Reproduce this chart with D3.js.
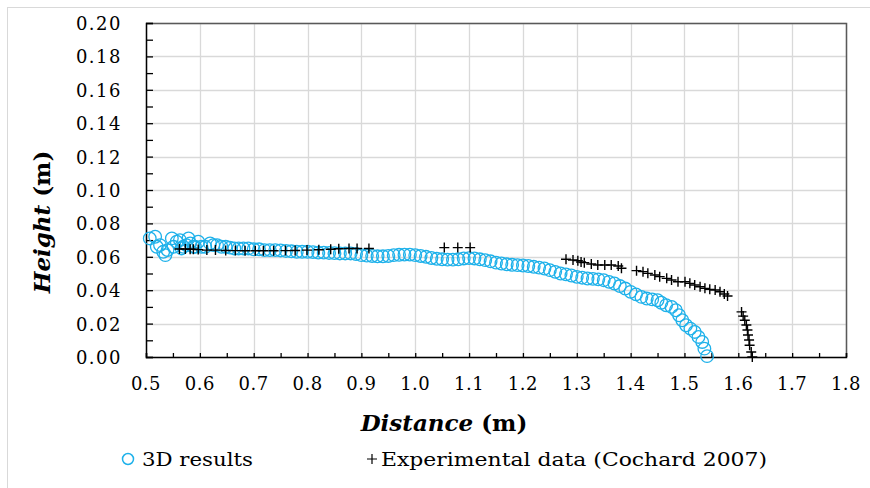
<!DOCTYPE html>
<html><head><meta charset="utf-8">
<script src="https://cdn.jsdelivr.net/npm/d3@7"></script>
<style>
html,body{margin:0;padding:0;background:#fff;}
svg{display:block;font-family:"DejaVu Serif",serif;}
</style></head>
<body><svg id="c" width="870" height="488"></svg>
<script>
// 3D results (circles)
const simX = [0.507,0.517,0.520,0.526,0.532,0.536,0.540,0.548,0.551,0.557,0.563,0.566,0.569,0.575,0.579,0.582,0.588,0.591,0.597,0.603,0.610,0.619,0.625,0.632,0.640,0.648,0.656,0.664,0.672,0.681,0.690,0.700,0.710,0.720,0.730,0.740,0.750,0.760,0.770,0.780,0.790,0.800,0.810,0.820,0.830,0.840,0.850,0.860,0.870,0.880,0.890,0.900,0.910,0.920,0.930,0.940,0.950,0.960,0.970,0.980,0.990,1.000,1.010,1.020,1.030,1.040,1.050,1.060,1.070,1.080,1.090,1.100,1.110,1.120,1.130,1.140,1.150,1.160,1.170,1.180,1.190,1.200,1.210,1.220,1.230,1.240,1.250,1.260,1.270,1.280,1.290,1.300,1.310,1.320,1.330,1.340,1.350,1.360,1.370,1.380,1.390,1.400,1.410,1.420,1.430,1.440,1.450,1.457,1.466,1.476,1.484,1.490,1.496,1.503,1.511,1.519,1.526,1.533,1.537,1.542];
const simY = [0.071,0.072,0.066,0.067,0.063,0.061,0.064,0.071,0.066,0.069,0.070,0.065,0.066,0.067,0.071,0.068,0.066,0.066,0.069,0.066,0.066,0.068,0.067,0.067,0.066,0.066,0.0655,0.065,0.065,0.065,0.065,0.0645,0.0645,0.064,0.064,0.064,0.0638,0.0635,0.0633,0.063,0.063,0.063,0.0628,0.0625,0.0625,0.0623,0.0622,0.062,0.062,0.062,0.0617,0.061,0.0607,0.0605,0.0603,0.0603,0.0605,0.061,0.0612,0.0613,0.0613,0.061,0.0605,0.060,0.0593,0.0588,0.0585,0.0583,0.0583,0.0585,0.059,0.0592,0.059,0.0585,0.058,0.0573,0.0565,0.056,0.0555,0.0552,0.055,0.0548,0.0545,0.054,0.0535,0.053,0.052,0.051,0.050,0.0495,0.0488,0.048,0.0475,0.047,0.0468,0.0465,0.046,0.045,0.044,0.0425,0.041,0.039,0.0375,0.036,0.035,0.0345,0.034,0.0325,0.031,0.030,0.028,0.025,0.022,0.019,0.017,0.015,0.012,0.009,0.005,0.0005];
// Experimental data (Cochard 2007) (plus markers)
const expX = [0.562,0.573,0.582,0.588,0.597,0.613,0.629,0.648,0.666,0.684,0.703,0.718,0.737,0.759,0.777,0.799,0.821,0.843,0.858,0.877,0.892,0.914,
  1.054,1.079,1.102,
  1.280,1.293,1.302,1.308,1.314,1.327,1.339,1.352,1.364,1.377,1.383,1.411,1.423,1.432,1.445,1.454,1.467,1.476,1.488,1.501,1.510,1.519,1.529,1.538,1.547,1.557,1.566,1.574,1.580,
  1.606,1.609,1.612,1.615,1.617,1.618,1.620,1.621,1.624,1.626];
const expY = [0.0647,0.0647,0.0645,0.0645,0.0643,0.064,0.064,0.0638,0.0637,0.0636,0.0636,0.0636,0.0636,0.0637,0.0638,0.064,0.0642,0.0645,0.0648,0.065,0.065,0.065,
  0.0655,0.0655,0.0655,
  0.0585,0.0581,0.0577,0.0569,0.0565,0.0557,0.0551,0.0551,0.0551,0.0545,0.0531,0.0517,0.0511,0.0501,0.0491,0.0481,0.0471,0.0461,0.0451,0.0451,0.0441,0.0431,0.0421,0.0411,0.0405,0.0401,0.0391,0.0377,0.0365,
  0.0270,0.0245,0.0220,0.0192,0.0162,0.0132,0.0102,0.0070,0.0030,0.0000];
const xTicks = [0.5,0.6,0.7,0.8,0.9,1.0,1.1,1.2,1.3,1.4,1.5,1.6,1.7,1.8];
const yTicks = [0.00,0.02,0.04,0.06,0.08,0.10,0.12,0.14,0.16,0.18,0.20];
const xTitle = "Distance", yTitle = "Height", unit = " (m)";
const legendLabels = ["3D results","Experimental data (Cochard 2007)"];

const svg = d3.select("#c");
const L=146, R=846, T=23, B=357;
const x = d3.scaleLinear().domain([0.5,1.8]).range([L,R]);
const y = d3.scaleLinear().domain([0,0.2]).range([B,T]);

// outer chart border
svg.append("rect").attr("x",7.5).attr("y",7.5).attr("width",880).attr("height",500)
  .attr("fill","none").attr("stroke","#d9d9d9").attr("stroke-width",1);

// gridlines
const g = svg.append("g");
g.selectAll(".gy").data(yTicks).join("line")
  .attr("x1",L).attr("x2",R).attr("y1",d=>Math.round(y(d))+0.5).attr("y2",d=>Math.round(y(d))+0.5)
  .attr("stroke","#d9d9d9").attr("stroke-width",1.3);
g.selectAll(".gx").data(xTicks).join("line")
  .attr("y1",T).attr("y2",B).attr("x1",d=>Math.round(x(d))+0.5).attr("x2",d=>Math.round(x(d))+0.5)
  .attr("stroke","#d9d9d9").attr("stroke-width",1.3);

// plot border (top & right)
svg.append("path").attr("d",`M${L},${T+0.5}H${R+0.5}V${B}`).attr("fill","none").attr("stroke","#595959").attr("stroke-width",1.5);

// axes
const xAxis = d3.axisBottom(x).tickValues(d3.range(0.5,1.8001,0.05)).tickSize(-4).tickFormat("");
svg.append("g").attr("transform",`translate(0,${B})`).call(xAxis)
  .call(s=>{s.select(".domain").attr("stroke","#000").attr("stroke-width",1.5);s.selectAll("line").attr("stroke","#000").attr("stroke-width",1.3);});
const yAxis = d3.axisLeft(y).tickValues(d3.range(0,0.2001,0.01)).tickSize(-7).tickFormat("");
svg.append("g").attr("transform",`translate(${L},0)`).call(yAxis)
  .call(s=>{s.select(".domain").attr("stroke","#000").attr("stroke-width",1.5);s.selectAll("line").attr("stroke","#000").attr("stroke-width",1.3);});

// tick labels
svg.append("g").selectAll("text").data(xTicks).join("text")
  .attr("x",d=>x(d)).attr("y",390).attr("text-anchor","middle")
  .attr("font-size",18).attr("letter-spacing",0.5).attr("fill","#000").text(d=>d.toFixed(1));
svg.append("g").selectAll("text").data(yTicks).join("text")
  .attr("x",122).attr("y",d=>y(d)+7).attr("text-anchor","end")
  .attr("font-size",18).attr("letter-spacing",1.5).attr("fill","#000").text(d=>d.toFixed(2));

// axis titles
const xt = svg.append("text").attr("x",444).attr("y",431).attr("text-anchor","middle")
  .attr("font-size",23).attr("font-weight","bold").attr("fill","#000");
xt.append("tspan").attr("font-style","italic").text(xTitle);
xt.append("tspan").text(unit);
const yt = svg.append("text").attr("transform","translate(50,222) rotate(-90)").attr("text-anchor","middle")
  .attr("font-size",23).attr("font-weight","bold").attr("fill","#000");
yt.append("tspan").attr("font-style","italic").text(yTitle);
yt.append("tspan").text(unit);

// data
const sim = simX.map((v,i)=>[v,simY[i]]);
const exp = expX.map((v,i)=>[v,expY[i]]);
svg.append("g").selectAll("circle").data(sim).join("circle")
  .attr("cx",d=>x(d[0])).attr("cy",d=>y(d[1])).attr("r",6.3)
  .attr("fill","none").attr("stroke","#1eb1ea").attr("stroke-width",1.3);
svg.append("g").selectAll("path").data(exp).join("path")
  .attr("transform",d=>`translate(${x(d[0])},${y(d[1])})`)
  .attr("d","M-5,0H5M0,-5V5").attr("stroke","#000").attr("stroke-width",1.4).attr("fill","none");

// legend
svg.append("circle").attr("cx",128).attr("cy",459).attr("r",5.5).attr("fill","none").attr("stroke","#1eb1ea").attr("stroke-width",1.5);
svg.append("text").attr("x",142).attr("y",466).attr("font-size",19).attr("fill","#000")
  .attr("textLength",111).attr("lengthAdjust","spacingAndGlyphs").text(legendLabels[0]);
svg.append("path").attr("d","M367,459H377M372,454V464").attr("stroke","#000").attr("stroke-width",1.2);
svg.append("text").attr("x",381).attr("y",466).attr("font-size",19).attr("fill","#000")
  .attr("textLength",386).attr("lengthAdjust","spacingAndGlyphs").text(legendLabels[1]);
</script></body></html>
